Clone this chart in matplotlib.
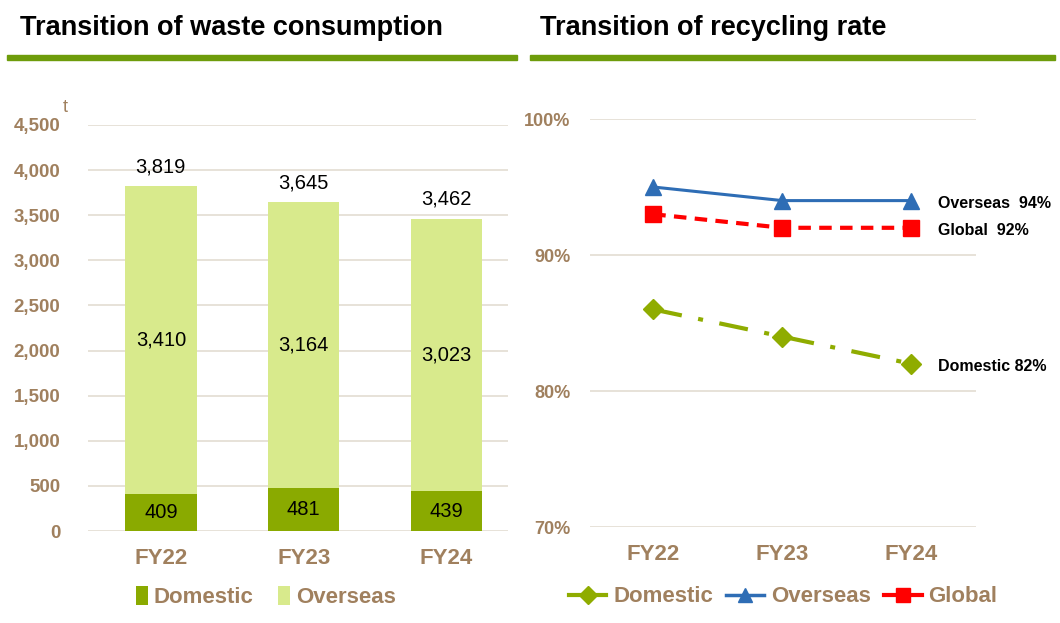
import matplotlib.pyplot as plt
from matplotlib.patches import Rectangle
from matplotlib.lines import Line2D

plt.rcParams['font.family'] = ['Liberation Sans', 'DejaVu Sans']

# data
years = ['FY22', 'FY23', 'FY24']
domestic_t = [409, 481, 439]
overseas_t = [3410, 3164, 3023]
total_t = [3819, 3645, 3462]

rate_domestic = [86, 84, 82]
rate_overseas = [95, 94, 94]
rate_global = [93, 92, 92]
rate_end_labels = ['Domestic 82%', 'Overseas  94%', 'Global  92%']

brown = '#a0805e'
grid_c = '#e3ddd2'
c_dom = '#8aaa00'
c_ovs = '#d8ea8c'
c_line_dom = '#8fac00'
c_line_ovs = '#2e6db5'
c_line_glb = '#ff0000'
bar_green = '#6e9c0b'

W, H = 1060, 623
fig = plt.figure(figsize=(W / 100, H / 100), dpi=100)

def fx(px):
    return px / W

def fy(py):
    return 1 - py / H

# titles and green rules
fig.text(fx(20), fy(28), 'Transition of waste consumption', fontsize=19.5, fontweight='bold', va='center', ha='left')
fig.text(fx(540), fy(28), 'Transition of recycling rate', fontsize=19.5, fontweight='bold', va='center', ha='left')
fig.patches.append(Rectangle((fx(7), fy(60)), fx(510), 5 / H, color=bar_green, transform=fig.transFigure))
fig.patches.append(Rectangle((fx(530), fy(60)), fx(525), 5 / H, color=bar_green, transform=fig.transFigure))

# ---- left: stacked bars ----
ax1 = fig.add_axes([fx(88), fy(531), fx(508 - 88), (531 - 125) / H])
x = range(len(years))
ax1.bar(x, domestic_t, width=0.5, color=c_dom, label='Domestic', zorder=2)
ax1.bar(x, overseas_t, width=0.5, bottom=domestic_t, color=c_ovs, label='Overseas', zorder=2)
for i in x:
    ax1.text(i, domestic_t[i] / 2, f'{domestic_t[i]:,}', ha='center', va='center', fontsize=14.5)
    ax1.text(i, domestic_t[i] + overseas_t[i] / 2, f'{overseas_t[i]:,}', ha='center', va='center', fontsize=14.5)
    ax1.annotate(f'{total_t[i]:,}', (i, total_t[i]), xytext=(0, 14), textcoords='offset points',
                 ha='center', va='center', fontsize=14.5)
ax1.set_ylim(0, 4500)
ax1.set_xlim(-0.51, 2.43)
ax1.set_yticks(range(0, 4501, 500))
ax1.set_yticklabels([f'{v:,}' for v in range(0, 4501, 500)])
ax1.set_xticks(list(x))
ax1.set_xticklabels(years)
ax1.yaxis.grid(True, color=grid_c, lw=1.2, zorder=0)
ax1.set_axisbelow(True)
for s in ax1.spines.values():
    s.set_visible(False)
ax1.tick_params(length=0, colors=brown, labelsize=13.5)
ax1.tick_params(axis='x', labelsize=16, pad=12)
ax1.tick_params(axis='y', pad=20)
for lab in ax1.get_xticklabels() + ax1.get_yticklabels():
    lab.set_fontweight('bold')
fig.text(fx(65), fy(108), 't', color=brown, fontsize=13, ha='center', va='center')
ax1.legend(loc='center', bbox_to_anchor=((266 - 88) / 420, (531 - 597) / (531 - 125)), ncol=2, frameon=False,
           handlelength=0.55, handleheight=0.9, handletextpad=0.25, columnspacing=1.1,
           labelcolor=brown, prop={'weight': 'bold', 'size': 16})

# ---- right: recycling rate lines ----
ax2 = fig.add_axes([fx(590), fy(527), fx(976 - 590), (527 - 119) / H])
ax2.plot(x, rate_domestic, color=c_line_dom, lw=3, ls=(0, (7, 4, 1.2, 4)), marker='D', ms=10, zorder=3)
ax2.plot(x, rate_overseas, color=c_line_ovs, lw=2.2, marker='^', ms=12, zorder=3)
ax2.plot(x, rate_global, color=c_line_glb, lw=3, ls=(0, (3, 2)), marker='s', ms=12, zorder=3)
ends = [rate_domestic[-1], rate_overseas[-1], rate_global[-1]]
for lab, v in zip(rate_end_labels, ends):
    ax2.annotate(lab, (2, v), xytext=(19, -2), textcoords='offset points', ha='left', va='center',
                 fontsize=11.5, fontweight='bold', annotation_clip=False)
ax2.set_ylim(70, 100)
ax2.set_xlim(-0.49, 2.5)
ax2.set_yticks([70, 80, 90, 100])
ax2.set_yticklabels(['70%', '80%', '90%', '100%'])
ax2.set_xticks(list(x))
ax2.set_xticklabels(years)
ax2.yaxis.grid(True, color=grid_c, lw=1.2, zorder=0)
ax2.set_axisbelow(True)
for s in ax2.spines.values():
    s.set_visible(False)
ax2.tick_params(length=0, colors=brown, labelsize=13)
ax2.tick_params(axis='x', labelsize=16, pad=12)
ax2.tick_params(axis='y', pad=14)
for lab in ax2.get_xticklabels() + ax2.get_yticklabels():
    lab.set_fontweight('bold')
handles = [Line2D([], [], color=c_line_dom, lw=3, marker='D', ms=9),
           Line2D([], [], color=c_line_ovs, lw=2.5, marker='^', ms=10),
           Line2D([], [], color=c_line_glb, lw=3, marker='s', ms=10)]
ax2.legend(handles, ['Domestic', 'Overseas', 'Global'], loc='center',
           bbox_to_anchor=(0.5, (527 - 597) / (527 - 119)), ncol=3, frameon=False,
           handlelength=1.7, handletextpad=0.3, columnspacing=0.6, labelcolor=brown,
           prop={'weight': 'bold', 'size': 16})

fig.savefig('out.png', dpi=100)
